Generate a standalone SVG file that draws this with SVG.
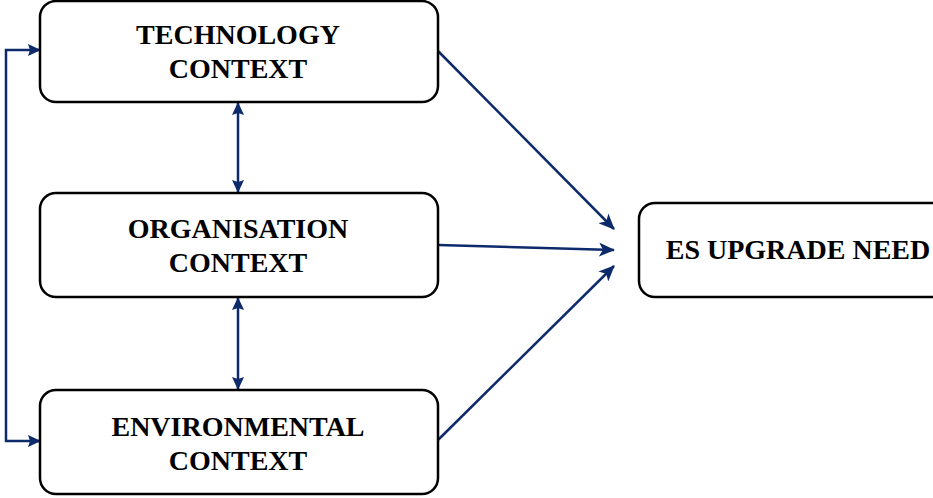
<svg xmlns="http://www.w3.org/2000/svg" width="933" height="498" viewBox="0 0 933 498">
<style>
.box{fill:#fff;stroke:#000;stroke-width:2.5}
.t{font-family:"Liberation Serif","Times New Roman",serif;font-weight:bold;font-size:28px;text-anchor:middle;fill:#000}
.c{stroke:#0d2a6b;stroke-width:2.5;fill:none}
</style>
<defs>
<marker id="ah" viewBox="0 0 13 12" refX="12" refY="6" markerWidth="13" markerHeight="12" markerUnits="userSpaceOnUse" orient="auto-start-reverse">
<path d="M0,0 L13,6 L0,12 L2,6 Z" fill="#0d2a6b"/>
</marker>
<marker id="ah2" viewBox="0 0 16 14" refX="15" refY="7" markerWidth="16" markerHeight="14" markerUnits="userSpaceOnUse" orient="auto">
<path d="M0,0 L16,7 L0,14 L4,7 Z" fill="#0d2a6b"/>
</marker>
</defs>
<g id="connectors">
<path class="c" d="M40,50 H6 V441 H40" marker-start="url(#ah)" marker-end="url(#ah)"/>
<line class="c" x1="238" y1="103" x2="238" y2="192" marker-start="url(#ah)" marker-end="url(#ah)"/>
<line class="c" x1="238" y1="298" x2="238" y2="389" marker-start="url(#ah)" marker-end="url(#ah)"/>
<line class="c" x1="438" y1="51" x2="614" y2="229" marker-end="url(#ah2)"/>
<line class="c" x1="438" y1="245" x2="614" y2="250" marker-end="url(#ah2)"/>
<line class="c" x1="438" y1="440" x2="614" y2="266" marker-end="url(#ah2)"/>
</g>
<g id="technology">
<rect class="box" x="40" y="1" width="398" height="101" rx="16"/>
<text class="t" x="238" y="44">TECHNOLOGY</text>
<text class="t" x="238" y="78">CONTEXT</text>
</g>
<g id="organisation">
<rect class="box" x="40" y="193" width="398" height="104" rx="16"/>
<text class="t" x="238" y="238">ORGANISATION</text>
<text class="t" x="238" y="272">CONTEXT</text>
</g>
<g id="environmental">
<rect class="box" x="40" y="390" width="398" height="104" rx="16"/>
<text class="t" x="238" y="436">ENVIRONMENTAL</text>
<text class="t" x="238" y="470">CONTEXT</text>
</g>
<g id="es">
<rect class="box" x="639" y="203" width="320" height="94" rx="16"/>
<text class="t" x="798" y="259">ES UPGRADE NEED</text>
</g>
</svg>
